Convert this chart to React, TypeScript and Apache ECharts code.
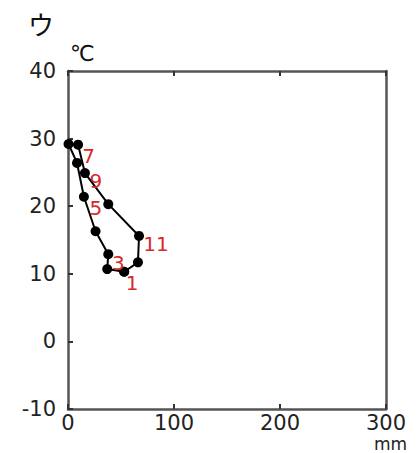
import React, { useEffect, useRef } from "react";
import * as echarts from "echarts";

const months = [1, 2, 3, 4, 5, 6, 7, 8, 9, 10, 11, 12];
const precipitation = [53, 37, 38, 26, 15, 8.5, 0.5, 9.5, 16, 38, 67, 66];
const temperature = [10.3, 10.7, 12.9, 16.3, 21.4, 26.4, 29.2, 29.1, 24.9, 20.3, 15.6, 11.7];
const labeledMonths = [1, 3, 5, 7, 9, 11];
const labelOffsets: Record<number, [number, number]> = {
  1: [8, 11],
  3: [10, 9],
  5: [12, 11],
  7: [20, 12],
  9: [11, 8],
  11: [17, 8],
};
const xTicks = [0, 100, 200, 300];
const yTicks = [-10, 0, 10, 20, 30, 40];

export default function App() {
  const ref = useRef<HTMLDivElement>(null);
  useEffect(() => {
    document.body.style.margin = "0";
    const chart = echarts.init(ref.current!, null, { renderer: "svg" });
    const pts = months.map((m, i) => {
      const item: any = { value: [precipitation[i], temperature[i]] };
      if (labeledMonths.includes(m)) {
        item.label = {
          show: true,
          formatter: String(m),
          position: "inside",
          offset: labelOffsets[m],
          color: "#d42a2a",
          fontSize: 20,
          fontFamily: "DejaVu Sans",
        };
      }
      return item;
    });
    pts.push({ value: [precipitation[0], temperature[0]] });
    const axisLine = { show: true, onZero: false, lineStyle: { color: "#555", width: 2.5 } };
    const tick = { show: true, inside: true, length: 5, lineStyle: { color: "#333", width: 2 } };
    chart.setOption({
      animation: false,
      grid: { left: 68, right: 32, top: 71, bottom: 44 },
      xAxis: [
        {
          type: "value",
          min: xTicks[0],
          max: xTicks[xTicks.length - 1],
          interval: 100,
          axisLine,
          axisTick: tick,
          axisLabel: { color: "#222", fontSize: 21, fontFamily: "DejaVu Sans", margin: 3 },
          splitLine: { show: false },
        },
        {
          type: "value",
          position: "top",
          min: xTicks[0],
          max: xTicks[xTicks.length - 1],
          interval: 100,
          axisLine,
          axisTick: tick,
          axisLabel: { show: false },
          splitLine: { show: false },
        },
      ],
      yAxis: [
        {
          type: "value",
          min: yTicks[0],
          max: yTicks[yTicks.length - 1],
          interval: 10,
          axisLine,
          axisTick: tick,
          axisLabel: { color: "#222", fontSize: 21, fontFamily: "DejaVu Sans", margin: 12 },
          splitLine: { show: false },
        },
        {
          type: "value",
          position: "right",
          min: yTicks[0],
          max: yTicks[yTicks.length - 1],
          interval: 10,
          axisLine,
          axisTick: { show: false },
          axisLabel: { show: false },
          splitLine: { show: false },
        },
      ],
      graphic: [
        { type: "text", left: 28, top: 10, style: { text: "ウ", fontSize: 26, fill: "#111", fontFamily: "Noto Sans CJK JP" } },
        { type: "text", left: 70, top: 42, style: { text: "℃", fontSize: 22, fill: "#111", fontFamily: "DejaVu Sans" } },
        { type: "text", left: 374, top: 435, style: { text: "mm", fontSize: 17, fill: "#222", fontFamily: "DejaVu Sans" } },
      ],
      series: [
        {
          type: "line",
          data: pts,
          symbol: "circle",
          symbolSize: 10,
          itemStyle: { color: "#000" },
          lineStyle: { color: "#000", width: 2 },
          z: 5,
        },
      ],
    });
    return () => chart.dispose();
  }, []);
  return <div ref={ref} style={{ width: 418, height: 453 }} />;
}
